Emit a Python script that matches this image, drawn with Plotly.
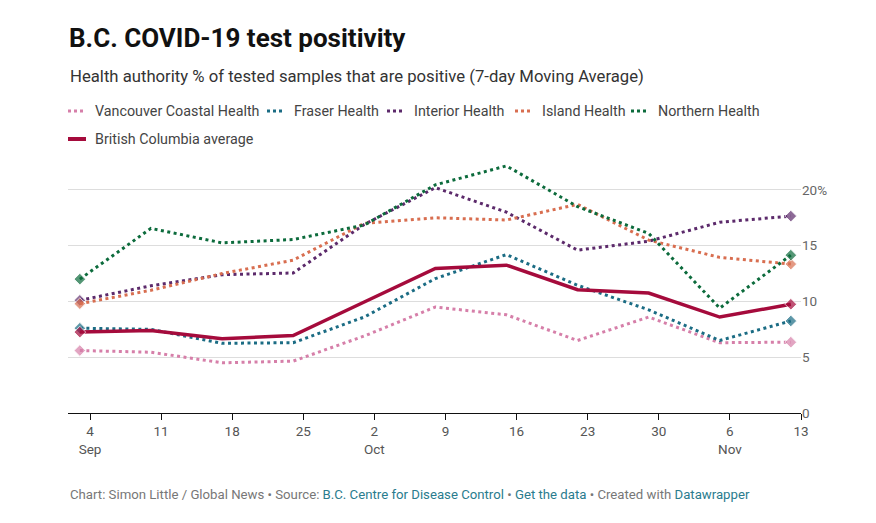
import plotly.graph_objects as go

# --------------------------------------------------------
# Data (weekly 7-day moving average, % positive)
# --------------------------------------------------------

dates = [
    "2020-09-03", "2020-09-10", "2020-09-17", "2020-09-24", "2020-10-01",
    "2020-10-08", "2020-10-15", "2020-10-22", "2020-10-29", "2020-11-05",
    "2020-11-12",
]

vancouver_coastal = [5.6, 5.45, 4.5, 4.65, 6.9, 9.5, 8.8, 6.5, 8.6, 6.3, 6.35]
fraser = [7.6, 7.5, 6.25, 6.3, 8.6, 12.05, 14.2, 11.45, 9.25, 6.5, 8.25]
interior = [10.1, 11.4, 12.4, 12.55, 16.9, 20.2, 18.0, 14.6, 15.4, 17.1, 17.65]
island = [9.8, 11.0, 12.5, 13.7, 17.0, 17.5, 17.3, 18.7, 15.5, 13.95, 13.35]
northern = [12.0, 16.55, 15.25, 15.55, 16.85, 20.45, 22.15, 18.5, 16.1, 9.4, 14.15]
bc_average = [7.25, 7.4, 6.65, 6.95, 9.95, 12.95, 13.25, 11.05, 10.75, 8.6, 9.75]

tick_dates = [
    "2020-09-04", "2020-09-11", "2020-09-18", "2020-09-25", "2020-10-02",
    "2020-10-09", "2020-10-16", "2020-10-23", "2020-10-30", "2020-11-06",
    "2020-11-13",
]
tick_text = ["4<br>Sep", "11", "18", "25", "2<br>Oct", "9", "16", "23", "30",
             "6<br>Nov", "13"]

y_ticks = [0, 5, 10, 15, 20]
y_tick_text = ["0", "5", "10", "15", "20%"]

series = [
    ("Vancouver Coastal Health", vancouver_coastal, "#d67fa9"),
    ("Fraser Health", fraser, "#1b6c84"),
    ("Interior Health", interior, "#5c2a6b"),
    ("Island Health", island, "#d86e50"),
    ("Northern Health", northern, "#0c6b3c"),
]

FONT = "Roboto"

# --------------------------------------------------------
# Figure
# --------------------------------------------------------

fig = go.Figure()

n = len(dates)
end_sizes = [9] + [0] * (n - 2) + [9]

for name, values, color in series:
    fig.add_trace(
        go.Scatter(
            x=dates,
            y=values,
            name=name,
            mode="lines+markers",
            line=dict(color=color, width=3, dash="3px,3.5px"),
            marker=dict(symbol="diamond", size=end_sizes, color=color),
            showlegend=False
        )
    )

fig.add_trace(
    go.Scatter(
        x=dates,
        y=bc_average,
        name="British Columbia average",
        mode="lines+markers",
        line=dict(color="#a50b3c", width=3.5),
        marker=dict(symbol="diamond", size=end_sizes, color="#a50b3c"),
        showlegend=False
    )
)

# --------------------------------------------------------
# Hand-drawn legend (Datawrapper style)
# --------------------------------------------------------

W, H = 876, 523
L, R, T, B = 68, 75, 162, 110
PW = W - L - R
PH = H - T - B


def px_x(x):
    return (x - L) / PW


def px_y(y):
    return (H - B - y) / PH


legend_items = [
    ("Vancouver Coastal Health", "#d67fa9", 93, 111, "dot"),
    ("Fraser Health", "#1b6c84", 292, 111, "dot"),
    ("Interior Health", "#5c2a6b", 412, 111, "dot"),
    ("Island Health", "#d86e50", 540, 111, "dot"),
    ("Northern Health", "#0c6b3c", 656, 111, "dot"),
    ("British Columbia average", "#a50b3c", 93, 139, "solid"),
]

for label, color, tx, ty, dash in legend_items:
    fig.add_shape(
        type="line",
        xref="paper", yref="paper",
        x0=px_x(tx - 25), x1=px_x(tx - 7),
        y0=px_y(ty), y1=px_y(ty),
        line=dict(color=color, width=3 if dash == "dot" else 4,
                  dash="3px,3px" if dash == "dot" else "solid")
    )
    fig.add_annotation(
        text=label,
        xref="paper", yref="paper",
        x=px_x(tx), y=px_y(ty),
        xanchor="left", yanchor="middle",
        showarrow=False,
        font=dict(family=FONT, size=14.3, color="#444444")
    )

# --------------------------------------------------------
# Title, subtitle, footer
# --------------------------------------------------------

fig.add_annotation(
    text="<b>B.C. COVID-19 test positivity</b>",
    xref="paper", yref="paper",
    x=px_x(67), y=px_y(38),
    xanchor="left", yanchor="middle",
    showarrow=False,
    font=dict(family=FONT, size=26, color="#111111")
)

fig.add_annotation(
    text="Health authority % of tested samples that are positive (7-day Moving Average)",
    xref="paper", yref="paper",
    x=0, y=px_y(76),
    xanchor="left", yanchor="middle",
    showarrow=False,
    font=dict(family=FONT, size=16.7, color="#333333")
)

link = "#2a7c8e"
footer = (
    "Chart: Simon Little / Global News • Source: "
    f"<span style='color:{link}'>B.C. Centre for Disease Control</span> • "
    f"<span style='color:{link}'>Get the data</span> • Created with "
    f"<span style='color:{link}'>Datawrapper</span>"
)

fig.add_annotation(
    text=footer,
    xref="paper", yref="paper",
    x=0, y=px_y(494),
    xanchor="left", yanchor="middle",
    showarrow=False,
    font=dict(family=FONT, size=13.2, color="#777777")
)

# --------------------------------------------------------
# Layout
# --------------------------------------------------------

fig.update_layout(
    width=W,
    height=H,
    margin=dict(l=L, r=R, t=T, b=B),
    paper_bgcolor="white",
    plot_bgcolor="white",
    font=dict(family=FONT, color="#555555"),
    xaxis=dict(
        type="date",
        range=["2020-09-01 20:00", "2020-11-13"],
        tickvals=tick_dates,
        ticktext=tick_text,
        showgrid=False,
        showline=True,
        linecolor="#111111",
        linewidth=1,
        ticks="outside",
        ticklen=6,
        tickcolor="#111111",
        tickfont=dict(family=FONT, size=13.5, color="#555555"),
        zeroline=False
    ),
    yaxis=dict(
        range=[0, 22.5],
        side="right",
        tickvals=y_ticks,
        ticktext=y_tick_text,
        showgrid=True,
        gridcolor="#dddddd",
        gridwidth=1,
        zeroline=False,
        ticks="",
        tickfont=dict(family=FONT, size=13.5, color="#666666")
    ),
    showlegend=False
)

fig.write_html(
    "out.html",
    config={"displayModeBar": False},
    post_script="document.body.style.margin='0';"
)
